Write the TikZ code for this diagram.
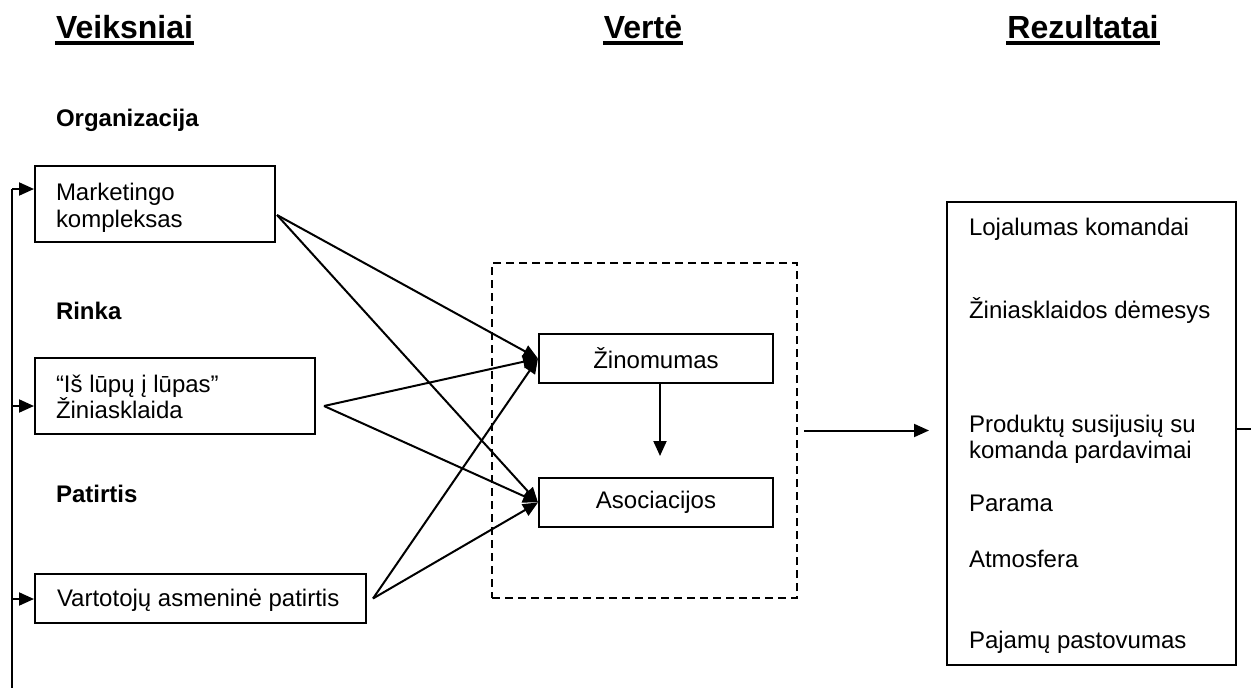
\documentclass[tikz,border=0pt]{standalone}
\usepackage{fontspec}
\setmainfont{Liberation Sans}
\usetikzlibrary{arrows.meta}

\begin{document}
\begin{tikzpicture}[x=1pt,y=-1pt,
  line width=2pt,
  box/.style={draw, line width=2pt, inner sep=0pt},
  dbox/.style={draw, line width=2pt, inner sep=0pt, dash pattern=on 8pt off 5pt},
  txt/.style={font=\fontsize{24}{27}\selectfont, inner sep=0pt, anchor=base west},
  sec/.style={font=\fontsize{24}{27}\selectfont\bfseries, inner sep=0pt, anchor=base west},
  head/.style={font=\fontsize{32}{36}\selectfont\bfseries, inner sep=0pt, anchor=base},
  uline/.style={line width=3.6pt},
  arr/.style={-{Triangle[length=15pt,width=13pt]}},
]
\useasboundingbox (0,0) rectangle (1251,688);

% column headings
\node[head, anchor=base west] (h1) at (55,38) {Veiksniai};
\node[head] (h2) at (643,38) {Vertė};
\node[head] (h3) at (1083,38) {Rezultatai};
\foreach \h in {h1,h2,h3}
  \draw[uline] ([yshift=-5pt]\h.base west) -- ([yshift=-5pt]\h.base east);

% factor groups
\node[sec] (s1) at (55,126) {Organizacija};
\node[sec] (s2) at (55,319) {Rinka};
\node[sec] (s3) at (55,502) {Patirtis};

\node[box, minimum width=240pt, minimum height=76pt] (mk) at (155,204) {};
\node[txt] (mk1) at (55,200) {Marketingo};
\node[txt] (mk2) at (55,227) {kompleksas};

\node[box, minimum width=280pt, minimum height=76pt] (wm) at (175,396) {};
\node[txt] (wm1) at (55,392) {“Iš lūpų į lūpas”};
\node[txt] (wm2) at (55,418) {Žiniasklaida};

\node[box, minimum width=331pt, minimum height=49pt] (ex) at (200.5,598.5) {};
\node[txt] (ex1) at (56,606) {Vartotojų asmeninė patirtis};

% value block
\node[dbox, minimum width=305pt, minimum height=335pt] (val) at (644.5,430.5) {};
\node[box, minimum width=234pt, minimum height=49pt,
      font=\fontsize{24}{27}\selectfont] (zin) at (656,358.5) {Žinomumas};
\node[box, minimum width=234pt, minimum height=49pt,
      font=\fontsize{24}{27}\selectfont] (aso) at (656,502.5) {Asociacijos};

% results
\node[box, minimum width=289pt, minimum height=463pt] (res) at (1091.5,433.5) {};
\node[txt] (r1) at (968,235) {Lojalumas komandai};
\node[txt] (r2) at (968,318) {Žiniasklaidos dėmesys};
\node[txt] (r3) at (968,432) {Produktų susijusių su};
\node[txt] (r4) at (968,458) {komanda pardavimai};
\node[txt] (r5) at (968,511) {Parama};
\node[txt] (r6) at (968,567) {Atmosfera};
\node[txt] (r7) at (968,648) {Pajamų pastovumas};

% connector end points
\coordinate (mkout) at ([xshift=1pt,yshift=-11pt]mk.east);
\coordinate (wmout) at ([xshift=8pt,yshift=-10pt]wm.east);
\coordinate (exout) at ([xshift=6pt]ex.east);

\draw[arr] (mkout) -- (zin.west);
\draw[arr] (mkout) -- (aso.west);
\draw[arr] (wmout) -- (zin.west);
\draw[arr] (wmout) -- (aso.west);
\draw[arr] (exout) -- (zin.west);
\draw[arr] (exout) -- (aso.west);

\draw[arr] ([xshift=4pt]zin.south) -- ([xshift=4pt,yshift=21pt]aso.north);

\coordinate (valout) at ([xshift=6pt]val.east);
\coordinate (resin) at ([xshift=-17pt]res.west);
\draw[arr] (valout) -- (valout -| resin);

% feedback loop
\coordinate (fbr) at (1260,429);
\draw (fbr -| res.east) -- (fbr);
\coordinate (fbbot) at (12,700);
\coordinate (fbtop) at (12,189);
\coordinate (fbmid) at (12,406);
\coordinate (fblow) at (12,599);
\draw (fbbot) -- (fbtop);
\draw[arr] (fbtop) -- (fbtop -| mk.west);
\draw[arr] (fbmid) -- (fbmid -| wm.west);
\draw[arr] (fblow) -- (fblow -| ex.west);
\end{tikzpicture}
\end{document}
